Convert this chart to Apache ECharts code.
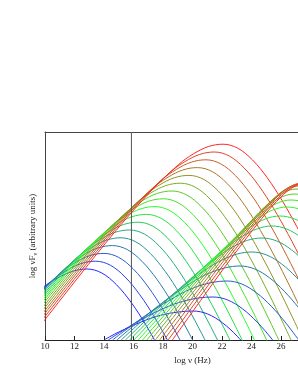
<!DOCTYPE html>
<html><head><meta charset="utf-8">
<script src="https://cdn.jsdelivr.net/npm/echarts@6/dist/echarts.min.js"></script>
<style>html,body{margin:0;padding:0;background:#fff}#c{width:298px;height:385px}</style>
</head><body><div id="c"></div>
<script>
// log nu range and tick step
const xRange = [10, 30];
const xStep = 2;
const yRange = [0, 10.4];
const markerLogNu = 15.86;

// synchrotron curves [log nu, log nuF_nu]
const sync0 = [[7.85,1.20],[9.85,2.62],[10.85,3.10],[11.85,3.43],[12.85,3.55],[13.85,3.35],[14.85,2.76],[15.85,1.87],[16.85,0.74],[17.85,-0.57]];
const sync1 = [[8.43,1.51],[10.43,2.93],[11.43,3.46],[12.43,3.82],[13.43,3.94],[14.43,3.74],[15.43,3.15],[16.43,2.26],[17.43,1.13],[18.43,-0.18]];
const sync2 = [[9.00,1.90],[11.00,3.32],[12.00,3.85],[13.00,4.21],[14.00,4.33],[15.00,4.13],[16.00,3.54],[17.00,2.65],[18.00,1.52],[19.00,0.21],[20.00,-1.22]];
const sync3 = [[9.58,2.29],[11.58,3.71],[12.58,4.24],[13.58,4.60],[14.58,4.72],[15.58,4.52],[16.58,3.93],[17.58,3.04],[18.58,1.91],[19.58,0.60],[20.58,-0.83]];
const sync4 = [[7.15,0.13],[10.15,2.68],[12.15,4.10],[13.15,4.63],[14.15,4.99],[15.15,5.11],[16.15,4.91],[17.15,4.32],[18.15,3.43],[19.15,2.30],[20.15,0.99],[21.15,-0.44]];
const sync5 = [[7.73,0.52],[10.73,3.07],[12.73,4.49],[13.73,5.02],[14.73,5.38],[15.73,5.50],[16.73,5.30],[17.73,4.71],[18.73,3.82],[19.73,2.69],[20.73,1.38],[21.73,-0.05],[22.73,-1.57]];
const sync6 = [[8.31,0.91],[11.31,3.46],[13.31,4.88],[14.31,5.41],[15.31,5.77],[16.31,5.89],[17.31,5.69],[18.31,5.10],[19.31,4.21],[20.31,3.08],[21.31,1.77],[22.31,0.34],[23.31,-1.18]];
const sync7 = [[8.88,1.30],[11.88,3.85],[13.88,5.27],[14.88,5.80],[15.88,6.16],[16.88,6.28],[17.88,6.08],[18.88,5.49],[19.88,4.60],[20.88,3.47],[21.88,2.16],[22.88,0.73],[23.88,-0.79]];
const sync8 = [[9.46,1.69],[12.46,4.24],[14.46,5.66],[15.46,6.19],[16.46,6.55],[17.46,6.67],[18.46,6.47],[19.46,5.88],[20.46,4.99],[21.46,3.86],[22.46,2.55],[23.46,1.12],[24.46,-0.40]];
const sync9 = [[5.03,-2.59],[10.03,2.08],[13.03,4.63],[15.03,6.05],[16.03,6.58],[17.03,6.94],[18.03,7.06],[19.03,6.86],[20.03,6.27],[21.03,5.38],[22.03,4.25],[23.03,2.94],[24.03,1.51],[25.03,-0.01],[26.03,-1.59]];
const sync10 = [[5.61,-2.20],[10.61,2.47],[13.61,5.02],[15.61,6.44],[16.61,6.97],[17.61,7.33],[18.61,7.45],[19.61,7.25],[20.61,6.66],[21.61,5.77],[22.61,4.64],[23.61,3.33],[24.61,1.90],[25.61,0.38],[26.61,-1.20]];
const sync11 = [[6.19,-1.81],[11.19,2.86],[14.19,5.41],[16.19,6.83],[17.19,7.36],[18.19,7.72],[19.19,7.84],[20.19,7.64],[21.19,7.05],[22.19,6.16],[23.19,5.03],[24.19,3.72],[25.19,2.29],[26.19,0.77],[27.19,-0.81]];
const sync12 = [[6.76,-1.42],[11.76,3.25],[14.76,5.80],[16.76,7.22],[17.76,7.75],[18.76,8.11],[19.76,8.23],[20.76,8.03],[21.76,7.44],[22.76,6.55],[23.76,5.42],[24.76,4.11],[25.76,2.68],[26.76,1.16],[27.76,-0.42]];
const sync13 = [[7.34,-1.03],[12.34,3.64],[15.34,6.19],[17.34,7.61],[18.34,8.14],[19.34,8.50],[20.34,8.62],[21.34,8.42],[22.34,7.83],[23.34,6.94],[24.34,5.81],[25.34,4.50],[26.34,3.07],[27.34,1.55],[28.34,-0.03],[29.34,-1.66]];
const sync14 = [[7.91,-0.64],[12.91,4.03],[15.91,6.58],[17.91,8.00],[18.91,8.53],[19.91,8.89],[20.91,9.01],[21.91,8.81],[22.91,8.22],[23.91,7.33],[24.91,6.20],[25.91,4.89],[26.91,3.46],[27.91,1.94],[28.91,0.36],[29.91,-1.27]];
const sync15 = [[8.49,-0.25],[13.49,4.42],[16.49,6.97],[18.49,8.39],[19.49,8.92],[20.49,9.28],[21.49,9.40],[22.49,9.20],[23.49,8.61],[24.49,7.72],[25.49,6.59],[26.49,5.28],[27.49,3.85],[28.49,2.33],[29.49,0.75],[30.49,-0.88]];
const sync16 = [[9.07,0.14],[14.07,4.81],[17.07,7.36],[19.07,8.78],[20.07,9.31],[21.07,9.67],[22.07,9.79],[23.07,9.59],[24.07,9.00],[25.07,8.11],[26.07,6.98],[27.07,5.67],[28.07,4.24],[29.07,2.72],[30.07,1.14]];

// inverse Compton curves
const ssc0 = [[14.00,0],[15.03,0.41],[17.03,1.05],[18.03,1.27],[19.03,1.40],[20.03,1.45],[21.03,1.30],[22.03,0.86],[23.03,0.19],[24.03,-0.66]];
const ssc1 = [[14.29,0],[16.39,0.97],[18.39,1.69],[19.39,1.94],[20.39,2.10],[21.39,2.15],[22.39,2.00],[23.39,1.56],[24.39,0.89],[25.39,0.04],[26.39,-0.94]];
const ssc2 = [[14.58,0],[15.34,0.43],[17.34,1.49],[19.34,2.36],[20.34,2.68],[21.34,2.88],[22.34,2.95],[23.34,2.80],[24.34,2.36],[25.34,1.69],[26.34,0.84],[27.34,-0.14]];
const ssc3 = [[14.87,0],[16.22,0.84],[18.22,2.01],[20.22,3.00],[21.22,3.37],[22.22,3.61],[23.22,3.70],[24.22,3.55],[25.22,3.11],[26.22,2.44],[27.22,1.59],[28.22,0.61],[29.22,-0.46]];
const ssc4 = [[15.16,0],[17.03,1.25],[19.03,2.50],[21.03,3.59],[22.03,4.01],[23.03,4.30],[24.03,4.40],[25.03,4.25],[26.03,3.81],[27.03,3.14],[28.03,2.29],[29.03,1.31],[30.03,0.24]];
const ssc5 = [[15.45,0],[17.71,1.60],[19.71,2.96],[21.71,4.16],[22.71,4.64],[23.71,4.98],[24.71,5.10],[25.71,4.95],[26.71,4.51],[27.71,3.84],[28.71,2.99],[29.71,2.01],[30.71,0.94]];
const ssc6 = [[15.74,0],[18.39,1.97],[20.39,3.39],[22.39,4.67],[23.39,5.19],[24.39,5.56],[25.39,5.70],[26.39,5.55],[27.39,5.11],[28.39,4.44],[29.39,3.59],[30.39,2.61]];
const ssc7 = [[16.03,0],[18.93,2.25],[20.93,3.74],[22.93,5.09],[23.93,5.65],[24.93,6.05],[25.93,6.20],[26.93,6.05],[27.93,5.61],[28.93,4.94],[29.93,4.09],[30.93,3.10]];
const ssc8 = [[16.32,0],[19.41,2.49],[21.41,4.04],[23.41,5.46],[24.41,6.06],[25.41,6.49],[26.41,6.65],[27.41,6.50],[28.41,6.06],[29.41,5.39],[30.41,4.54]];
const ssc9 = [[16.61,0],[19.68,2.57],[21.68,4.20],[23.68,5.70],[24.68,6.34],[25.68,6.82],[26.68,7.00],[27.68,6.85],[28.68,6.41],[29.68,5.74],[30.68,4.89]];
const ssc10 = [[16.90,0],[19.88,2.59],[21.88,4.29],[23.88,5.88],[24.88,6.57],[25.88,7.09],[26.88,7.30],[27.88,7.15],[28.88,6.71],[29.88,6.04],[30.88,5.19]];
const ssc11 = [[17.19,0],[20.02,2.55],[22.02,4.31],[24.02,5.99],[25.02,6.73],[26.02,7.31],[27.02,7.55],[28.02,7.40],[29.02,6.96],[30.02,6.29],[31.02,5.44]];
const ssc12 = [[17.48,0],[20.15,2.49],[22.15,4.31],[24.15,6.05],[25.15,6.83],[26.15,7.44],[27.15,7.70],[28.15,7.55],[29.15,7.11],[30.15,6.44]];
const ssc13 = [[17.77,0],[20.29,2.41],[22.29,4.29],[24.29,6.09],[25.29,6.89],[26.29,7.53],[27.29,7.80],[28.29,7.65],[29.29,7.21],[30.29,6.54]];
const ssc14 = [[18.06,0],[20.42,2.32],[22.42,4.25],[24.42,6.09],[25.42,6.92],[26.42,7.58],[27.42,7.85],[28.42,7.70],[29.42,7.26],[30.42,6.59]];
const ssc15 = [[18.35,0],[20.56,2.23],[22.56,4.21],[24.56,6.09],[25.56,6.92],[26.56,7.58],[27.56,7.85],[28.56,7.70],[29.56,7.26],[30.56,6.59]];
const ssc16 = [[18.64,0],[20.69,2.12],[22.69,4.15],[24.69,6.07],[25.69,6.92],[26.69,7.58],[27.69,7.85],[28.69,7.70],[29.69,7.26],[30.69,6.59]];

const syncCurves = [sync0,sync1,sync2,sync3,sync4,sync5,sync6,sync7,sync8,sync9,sync10,sync11,sync12,sync13,sync14,sync15,sync16];
const sscCurves = [ssc0,ssc1,ssc2,ssc3,ssc4,ssc5,ssc6,ssc7,ssc8,ssc9,ssc10,ssc11,ssc12,ssc13,ssc14,ssc15,ssc16];
const curveColors = ['#2626ff','#2641e4','#265dc9','#2678ad','#269393','#26ad78','#26c95d','#26e441','#26ff26','#41e426','#5dc926','#78ad26','#939326','#ad7826','#c95d26','#e44126','#ff2626'];

const chart = echarts.init(document.getElementById('c'), null, {renderer: 'canvas'});
const font = 'Liberation Serif';
const series = [];
function addCurve(d, color) {
  series.push({type: 'line', data: d, showSymbol: false, smooth: 0.35, clip: true,
    lineStyle: {color: color, width: 1}, silent: true, z: 2});
}
syncCurves.forEach((d, i) => addCurve(d, curveColors[i]));
sscCurves.forEach((d, i) => addCurve(d, curveColors[i]));
series.push({type: 'line', data: [[markerLogNu, yRange[0]], [markerLogNu, yRange[1]]], showSymbol: false,
  lineStyle: {color: '#555', width: 1}, silent: true, z: 3});

chart.setOption({
  animation: false,
  grid: {left: 45, top: 132, width: 295, height: 208, containLabel: false, outerBoundsMode: 'none'},
  xAxis: [{
    type: 'value', min: xRange[0], max: xRange[1], interval: xStep, position: 'bottom',
    name: 'log ν (Hz)', nameLocation: 'middle', nameGap: 11,
    nameTextStyle: {fontFamily: font, fontSize: 9, color: '#222'},
    axisLine: {lineStyle: {color: '#222', width: 1}},
    axisTick: {inside: true, length: 4, lineStyle: {color: '#222'}},
    axisLabel: {fontFamily: font, fontSize: 9, color: '#222', margin: 2},
    splitLine: {show: false}
  }, {
    type: 'value', min: xRange[0], max: xRange[1], interval: xStep, position: 'top',
    axisLine: {lineStyle: {color: '#444', width: 1}},
    axisTick: {show: false}, axisLabel: {show: false}, splitLine: {show: false}
  }],
  yAxis: {
    type: 'value', min: yRange[0], max: yRange[1],
    name: '{a|log νF}{s|ν}{a| (arbitrary units)}', nameLocation: 'middle', nameGap: 7,
    nameTextStyle: {fontFamily: font, fontSize: 9, color: '#222',
      rich: {a: {fontFamily: font, fontSize: 9, color: '#222'}, s: {fontFamily: font, fontSize: 6, color: '#222', verticalAlign: 'bottom', padding: [4, 0, 0, 0]}}},
    axisLine: {show: true, lineStyle: {color: '#444', width: 1}},
    axisTick: {show: false}, axisLabel: {show: false}, splitLine: {show: false}
  },
  series: series
});
</script></body></html>
